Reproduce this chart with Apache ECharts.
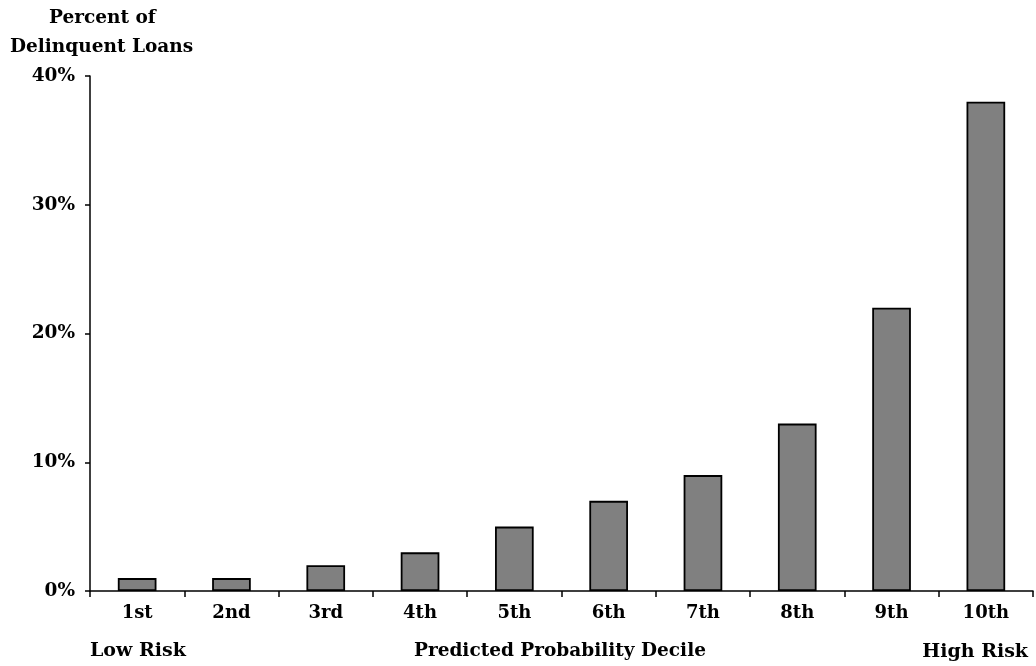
<!DOCTYPE html>
<html>
<head>
<meta charset="utf-8">
<script src="https://cdn.jsdelivr.net/npm/echarts@6/dist/echarts.min.js"></script>
<style>
html,body{margin:0;padding:0;background:#fff;}
#chart{width:1036px;height:666px;}
</style>
</head>
<body>
<div id="chart"></div>
<script>
const categories = ['1st','2nd','3rd','4th','5th','6th','7th','8th','9th','10th'];
const delinquentPct = [1, 1, 2, 3, 5, 7, 9, 13, 22, 38];
const yTicks = [0, 10, 20, 30, 40];

const FONT = '"DejaVu Serif", serif';
const chart = echarts.init(document.getElementById('chart'));
chart.setOption({
  backgroundColor: '#ffffff',
  animation: false,
  grid: {left: 90, right: 3, top: 76, bottom: 75, containLabel: false, outerBoundsMode: 'none'},
  xAxis: {
    type: 'category',
    data: categories,
    axisLine: {lineStyle: {color: '#000', width: 1.5}},
    axisTick: {show: true, length: 6, lineStyle: {color: '#000', width: 1.5}, alignWithLabel: false},
    axisLabel: {fontFamily: FONT, fontWeight: 'bold', fontSize: 18, color: '#000', margin: 13}
  },
  yAxis: {
    type: 'value',
    min: yTicks[0],
    max: yTicks[yTicks.length - 1],
    interval: 10,
    axisLine: {show: true, lineStyle: {color: '#000', width: 1.5}},
    axisTick: {show: true, length: 5, lineStyle: {color: '#000', width: 1.5}},
    splitLine: {show: false},
    axisLabel: {fontFamily: FONT, fontWeight: 'bold', fontSize: 18.5, color: '#000', margin: 15, formatter: '{value}%'}
  },
  graphic: [
    {type: 'text', left: 49, top: 9, style: {text: 'Percent of', fontFamily: FONT, fontWeight: 'bold', fontSize: 18.5, fill: '#000'}},
    {type: 'text', left: 10, top: 38, style: {text: 'Delinquent Loans', fontFamily: FONT, fontWeight: 'bold', fontSize: 18.5, fill: '#000'}},
    {type: 'text', left: 90, top: 642, style: {text: 'Low Risk', fontFamily: FONT, fontWeight: 'bold', fontSize: 19, fill: '#000'}},
    {type: 'text', left: 414, top: 642, style: {text: 'Predicted Probability Decile', fontFamily: FONT, fontWeight: 'bold', fontSize: 18.5, fill: '#000'}},
    {type: 'text', right: 8, top: 643, style: {text: 'High Risk', fontFamily: FONT, fontWeight: 'bold', fontSize: 19, fill: '#000'}}
  ],
  series: [{
    type: 'bar',
    data: delinquentPct,
    barWidth: '41%',
    itemStyle: {color: '#808080', borderColor: '#000', borderWidth: 1.8}
  }]
});
</script>
</body>
</html>
